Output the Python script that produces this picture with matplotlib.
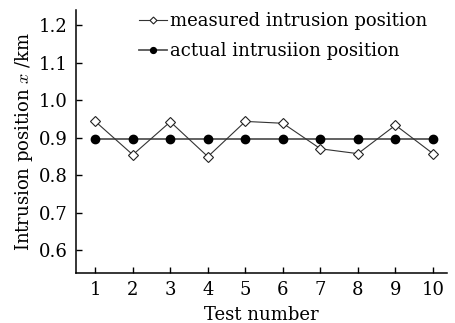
import matplotlib
matplotlib.use('Agg')
import matplotlib.pyplot as plt

tests = [1, 2, 3, 4, 5, 6, 7, 8, 9, 10]
measured = [0.943, 0.854, 0.942, 0.849, 0.943, 0.938, 0.870, 0.857, 0.933, 0.857]
actual = [0.895] * 10
y_ticks = [0.6, 0.7, 0.8, 0.9, 1.0, 1.1, 1.2]

plt.rcParams['font.family'] = 'DejaVu Serif'
plt.rcParams['mathtext.fontset'] = 'cm'

fig = plt.figure(figsize=(4.56, 3.23), dpi=100)
ax = fig.add_axes([0.167, 0.155, 0.813, 0.814])

ax.plot(tests, actual, '-', color='#555555', linewidth=1.3, zorder=2,
        marker='o', markersize=6, markerfacecolor='black', markeredgecolor='black',
        label='actual intrusiion position')
ax.plot(tests, measured, '-', color='#333333', linewidth=0.8, zorder=3,
        marker='D', markersize=5, markerfacecolor='white', markeredgecolor='#222222',
        markeredgewidth=0.8, label='measured intrusion position')

ax.set_xlim(0.49, 10.37)
ax.set_ylim(0.539, 1.24)
ax.set_xticks(tests)
ax.set_yticks(y_ticks)
ax.set_yticklabels([f'{v:.1f}' for v in y_ticks])
ax.tick_params(direction='in', length=4, width=1, labelsize=13, pad=6)

for s in ['top', 'right']:
    ax.spines[s].set_visible(False)
for s in ['left', 'bottom']:
    ax.spines[s].set_linewidth(1.1)

ax.set_xlabel('Test number', fontsize=13, labelpad=4.5)
ax.set_ylabel('Intrusion position $x$ /km', fontsize=13, labelpad=3)

h, l = ax.get_legend_handles_labels()
leg = ax.legend(h[::-1], l[::-1], loc='upper left', bbox_to_anchor=(0.127, 1.054),
                frameon=False, fontsize=13, handlelength=1.5, handletextpad=0.17,
                labelspacing=0.67, markerscale=0.7)

fig.savefig('out.png', dpi=100)
